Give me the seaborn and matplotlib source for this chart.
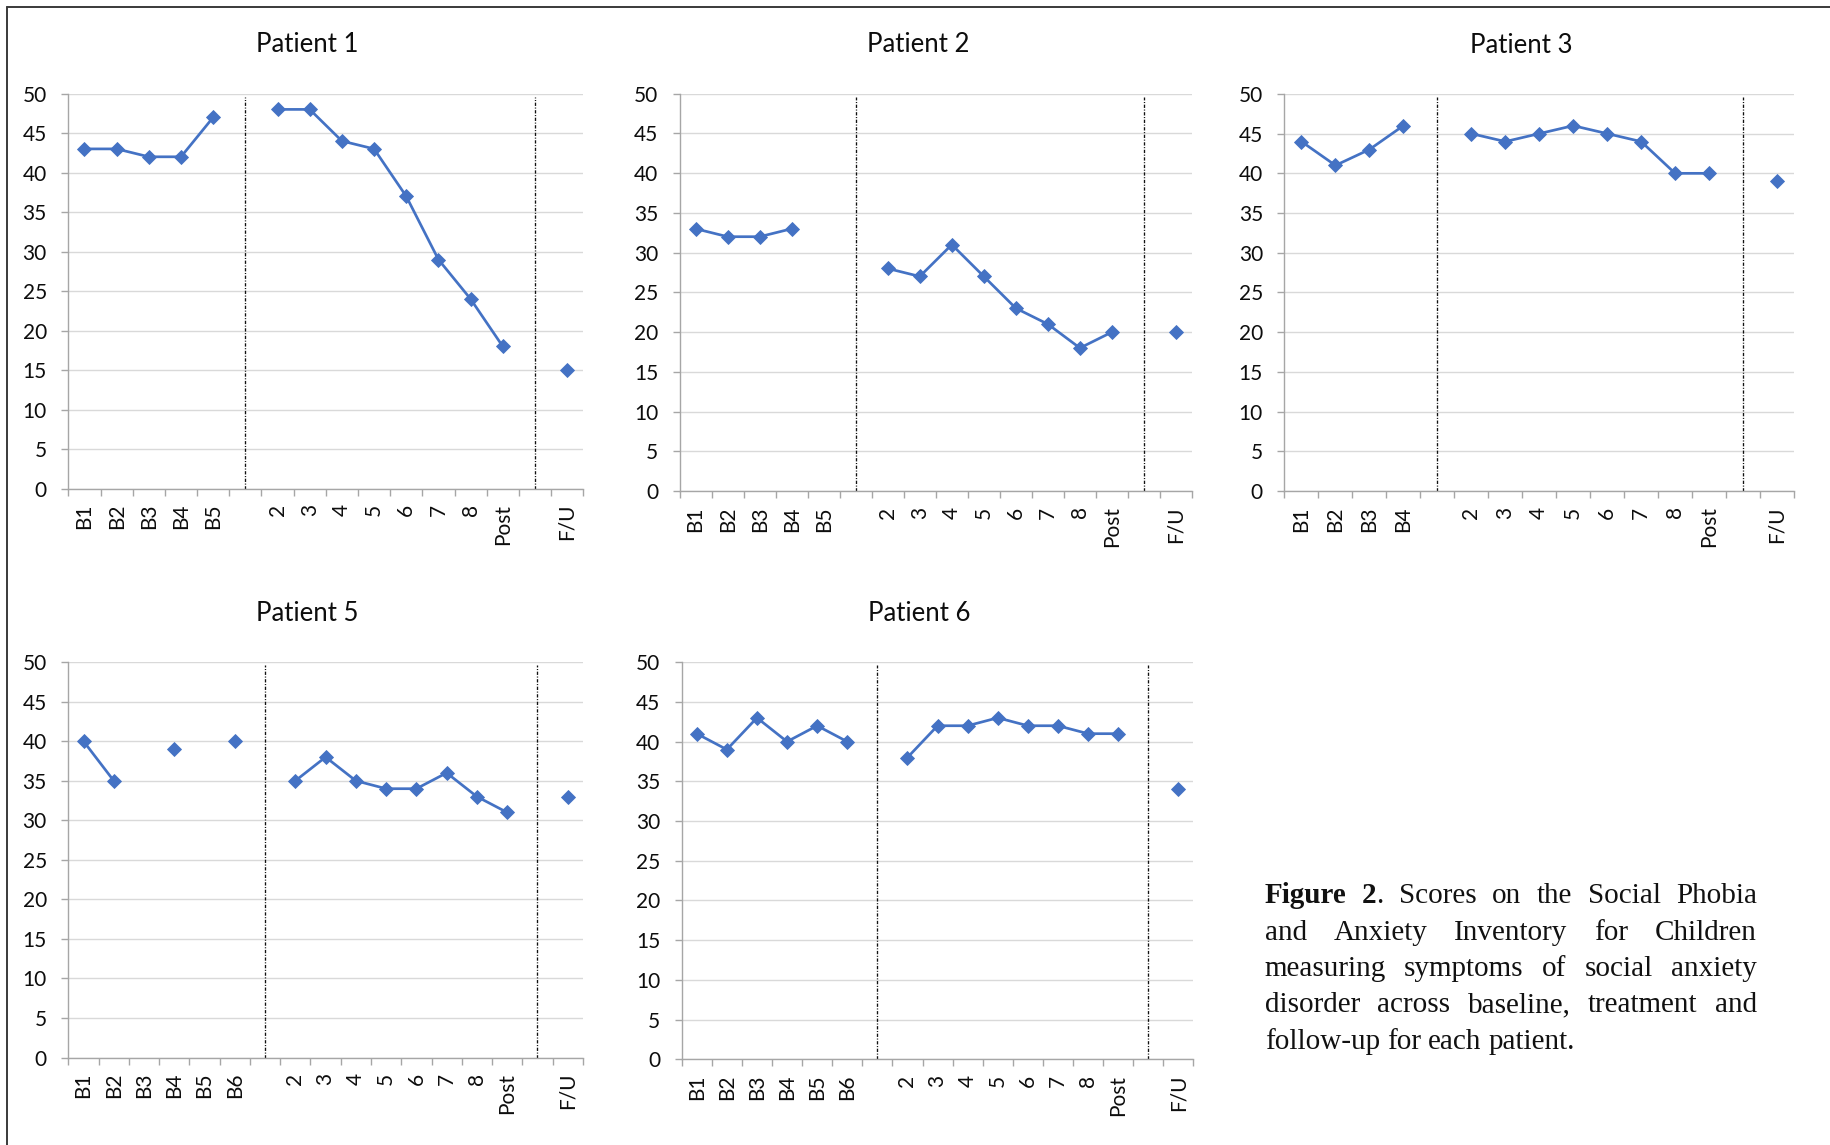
import numpy as np
import pandas as pd
import matplotlib
matplotlib.use("Agg")
import matplotlib.pyplot as plt
from matplotlib.lines import Line2D
import seaborn as sns

# ---------------------------------------------------------------- data
labels_b5 = ["B1", "B2", "B3", "B4", "B5", "", "2", "3", "4", "5", "6", "7", "8", "Post", "", "F/U"]
labels_b4 = ["B1", "B2", "B3", "B4", "", "2", "3", "4", "5", "6", "7", "8", "Post", "", "F/U"]
labels_b6 = ["B1", "B2", "B3", "B4", "B5", "B6", "", "2", "3", "4", "5", "6", "7", "8", "Post", "", "F/U"]

p1_scores = [43, 43, 42, 42, 47, None, 48, 48, 44, 43, 37, 29, 24, 18, None, 15]
p2_scores = [33, 32, 32, 33, None, None, 28, 27, 31, 27, 23, 21, 18, 20, None, 20]
p3_scores = [44, 41, 43, 46, None, 45, 44, 45, 46, 45, 44, 40, 40, None, 39]
p5_scores = [40, 35, None, 39, None, 40, None, 35, 38, 35, 34, 34, 36, 33, 31, None, 33]
p6_scores = [41, 39, 43, 40, 42, 40, None, 38, 42, 42, 43, 42, 42, 41, 41, None, 34]

titles = ["Patient 1", "Patient 2", "Patient 3", "Patient 5", "Patient 6"]
panel_labels = [labels_b5, labels_b5, labels_b4, labels_b6, labels_b6]
panel_scores = [p1_scores, p2_scores, p3_scores, p5_scores, p6_scores]

caption_bold = "Figure 2"
caption_lines = [
    "Figure 2. Scores on the Social Phobia",
    "and Anxiety Inventory for Children",
    "measuring symptoms of social anxiety",
    "disorder across baseline, treatment and",
    "follow-up for each patient.",
]

# ---------------------------------------------------------------- style
sns.set_style("white")
plt.rcParams["font.family"] = ["Lato", "DejaVu Sans"]

W, H, DPI = 1831, 1145, 100
fig = plt.figure(figsize=(W / DPI, H / DPI), dpi=DPI)
fig.patch.set_facecolor("white")

BLUE = "#4472C4"
GRID = "#d9d9d9"
AXIS = "#a6a6a6"
TEXT = "#0d0d0d"

# plot-area rectangles in pixels: left, top, right, bottom
rects = [
    (68.4, 93.6, 583.2, 488.6),
    (679.6, 93.6, 1192.0, 491.1),
    (1284.5, 93.9, 1794.0, 491.1),
    (68.4, 662.2, 582.8, 1057.5),
    (681.7, 662.2, 1193.4, 1059.3),
]


def add_axes_px(l, t, r, b):
    return fig.add_axes([l / W, 1 - b / H, (r - l) / W, (b - t) / H])


def segments(scores):
    """Split a score list into runs of consecutive observed sessions."""
    rows, seg, prev = [], 0, False
    for i, v in enumerate(scores):
        if v is None:
            if prev:
                seg += 1
            prev = False
            continue
        rows.append((i, float(v), seg))
        prev = True
    return pd.DataFrame(rows, columns=["pos", "score", "seg"])


for title, labels, scores, rect in zip(titles, panel_labels, panel_scores, rects):
    ax = add_axes_px(*rect)
    n = len(labels)
    df = segments(scores)

    sns.lineplot(
        data=df, x="pos", y="score", units="seg", estimator=None, sort=False,
        color=BLUE, linewidth=1.95, marker="D", markersize=7.4,
        markeredgecolor=BLUE, markeredgewidth=0.6, legend=False, ax=ax,
    )

    # phase dividers sit in the empty category slots
    for i, lab in enumerate(labels):
        if lab == "":
            ax.axvline(i, ymin=0, ymax=0.992, color="#111111", lw=0.95,
                       linestyle=(0, (2.5, 1.2, 0.8, 1.2)), zorder=1)

    ax.set_xlim(-0.5, n - 0.5)
    ax.set_ylim(0, 50)
    ax.set_yticks(range(0, 51, 5))
    ax.yaxis.grid(True, color=GRID, lw=1.0)
    ax.xaxis.grid(False)
    ax.set_axisbelow(True)

    ax.set_xticks(range(n))
    ax.set_xticklabels(labels, rotation=90)
    ax.set_xticks(np.arange(-0.5, n, 1.0), minor=True)
    ax.tick_params(axis="x", which="major", length=0, pad=11,
                   labelsize=15, labelcolor=TEXT)
    ax.tick_params(axis="x", which="minor", length=5, width=1.0,
                   color=AXIS, bottom=True)
    ax.tick_params(axis="y", which="major", length=5, width=1.0,
                   color=AXIS, pad=10.5, labelsize=15, labelcolor=TEXT, left=True)

    for side in ("top", "right"):
        ax.spines[side].set_visible(False)
    for side in ("left", "bottom"):
        ax.spines[side].set_color(AXIS)
        ax.spines[side].set_linewidth(1.0)

    ax.set_xlabel("")
    ax.set_ylabel("")
    ax.annotate(title, xy=(0.5, 1.0), xycoords="axes fraction",
                xytext=(-13, 35), textcoords="offset points",
                ha="center", va="center", fontsize=18.5, color=TEXT)

# ---------------------------------------------------------------- frame
fig.add_artist(Line2D([6.7 / W, 1.0], [1 - 7.3 / H, 1 - 7.3 / H],
                      transform=fig.transFigure, color="#3a3a3a", lw=1.4))
fig.add_artist(Line2D([6.7 / W, 6.7 / W], [1 - 7.3 / H, 0.0],
                      transform=fig.transFigure, color="#3a3a3a", lw=1.4))

# ---------------------------------------------------------------- caption (justified)
renderer = fig.canvas.get_renderer()
cap_kw = dict(family=["Liberation Serif", "DejaVu Serif"], fontsize=21, color="#111111")
cap_left, cap_right = 1264.6, 1757.0
cap_first_baseline, cap_step = 903.0, 36.5


def word_segments(line, offset_bold):
    """Return list of words, each a list of (text, weight) pieces."""
    words, idx = [], 0
    for w in line.split(" "):
        start = line.index(w, idx)
        idx = start + len(w)
        nb = max(0, min(len(w), offset_bold - start))
        pieces = []
        if nb > 0:
            pieces.append((w[:nb], "bold"))
        if nb < len(w):
            pieces.append((w[nb:], "normal"))
        words.append(pieces)
    return words


def measure(text, weight):
    t = fig.text(0, 0, text, fontweight=weight, **cap_kw)
    wpx = t.get_window_extent(renderer).width
    t.remove()
    return wpx


space_px = measure("a a", "normal") - measure("aa", "normal")

for li, line in enumerate(caption_lines):
    bold_len = len(caption_bold) if li == 0 else 0
    words = word_segments(line, bold_len)
    widths = [[measure(s, wt) for s, wt in w] for w in words]
    totals = [sum(w) for w in widths]
    last = li == len(caption_lines) - 1
    if last or len(words) == 1:
        gap = space_px
    else:
        gap = (cap_right - cap_left - sum(totals)) / (len(words) - 1)
    y = 1 - (cap_first_baseline + li * cap_step) / H
    x = cap_left
    for pieces, pw in zip(words, widths):
        xx = x
        for (s, wt), w in zip(pieces, pw):
            fig.text(xx / W, y, s, fontweight=wt, ha="left", va="baseline", **cap_kw)
            xx += w
        x += sum(pw) + gap

fig.savefig("out.png", dpi=DPI, facecolor="white")
